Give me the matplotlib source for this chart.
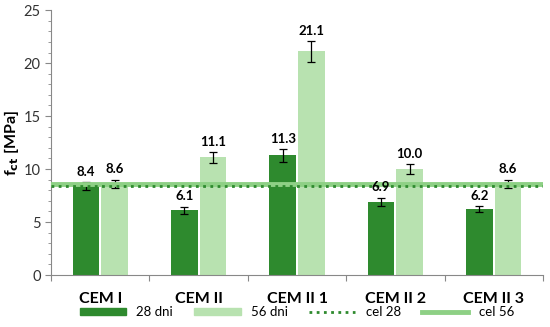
import matplotlib
matplotlib.use("Agg")
import matplotlib.pyplot as plt
from matplotlib.lines import Line2D
from matplotlib.patches import Patch
import numpy as np

categories = ["CEM I", "CEM II", "CEM II 1", "CEM II 2", "CEM II 3"]
d28 = [8.4, 6.1, 11.3, 6.9, 6.2]
d56 = [8.6, 11.1, 21.1, 10.0, 8.6]
err28 = [0.4, 0.35, 0.6, 0.4, 0.3]
err56 = [0.4, 0.5, 1.0, 0.5, 0.4]
cel28 = 8.4
cel56 = 8.6

dark = "#2e8a2e"
light = "#b8e2b0"
line56 = "#8ed085"

plt.rcParams['font.family'] = ['Lato', 'DejaVu Sans']
fig = plt.figure(figsize=(5.5, 3.27), dpi=100)
ax = fig.add_axes([0.093, 0.159, 0.894, 0.81])

x = np.arange(len(categories))
w = 0.27
off = 0.145
ax.bar(x - off, d28, w, color=dark, yerr=err28, capsize=3,
       error_kw=dict(ecolor="black", elinewidth=0.9, capthick=0.9), zorder=2)
ax.bar(x + off, d56, w, color=light, yerr=err56, capsize=3,
       error_kw=dict(ecolor="black", elinewidth=0.9, capthick=0.9), zorder=2)
ax.axhline(cel56, color=line56, lw=3.5, zorder=3)
ax.axhline(cel28, color=dark, lw=2, ls=(0, (1, 1.6)), zorder=3)

for xi, v, e in zip(x - off, d28, err28):
    ax.text(xi, v + e + 0.4, f"{v:.1f}", ha="center", va="bottom", fontsize=9.5, fontweight="bold")
for xi, v, e in zip(x + off, d56, err56):
    ax.text(xi, v + e + 0.4, f"{v:.1f}", ha="center", va="bottom", fontsize=9.5, fontweight="bold")

ax.set_xlim(-0.5, len(categories) - 0.5)
ax.set_ylim(0, 25)
ax.set_yticks(np.arange(0, 26, 5))
ax.set_yticks(np.arange(0, 26, 1), minor=True)
ax.set_xticks(np.arange(-0.5, len(categories), 1))
ax.set_xticklabels([])
ax.set_xticks(x, minor=True)
ax.set_xticklabels(categories, minor=True, fontsize=11.5, fontweight="bold")
ax.tick_params(axis="x", which="minor", length=0, pad=12)
ax.tick_params(axis="x", which="major", length=4, color="#888888")
ax.tick_params(axis="y", which="major", length=4, color="#888888", labelsize=10.5, labelcolor="#333333")
ax.tick_params(axis="y", which="minor", length=2, color="#888888")
for s in ["top", "right"]:
    ax.spines[s].set_visible(False)
ax.spines["left"].set_color("#888888")
ax.spines["bottom"].set_color("#888888")
ax.set_ylabel("f$_{\\mathbf{ct}}$ [MPa]", fontsize=11.5, fontweight="bold", labelpad=2)

handles = [Patch(color=dark), Patch(color=light),
           Line2D([], [], color=dark, lw=2, ls=(0, (1, 1.6))),
           Line2D([], [], color=line56, lw=3.5)]
labels = ["28 dni", "56 dni", "cel 28", "cel 56"]
fig.legend(handles, labels, loc="lower center", bbox_to_anchor=(0.54, -0.01), ncol=4,
           frameon=False, fontsize=9.5, handlelength=3.5, handleheight=0.45, columnspacing=1.6)

fig.savefig("out.png", dpi=100)
